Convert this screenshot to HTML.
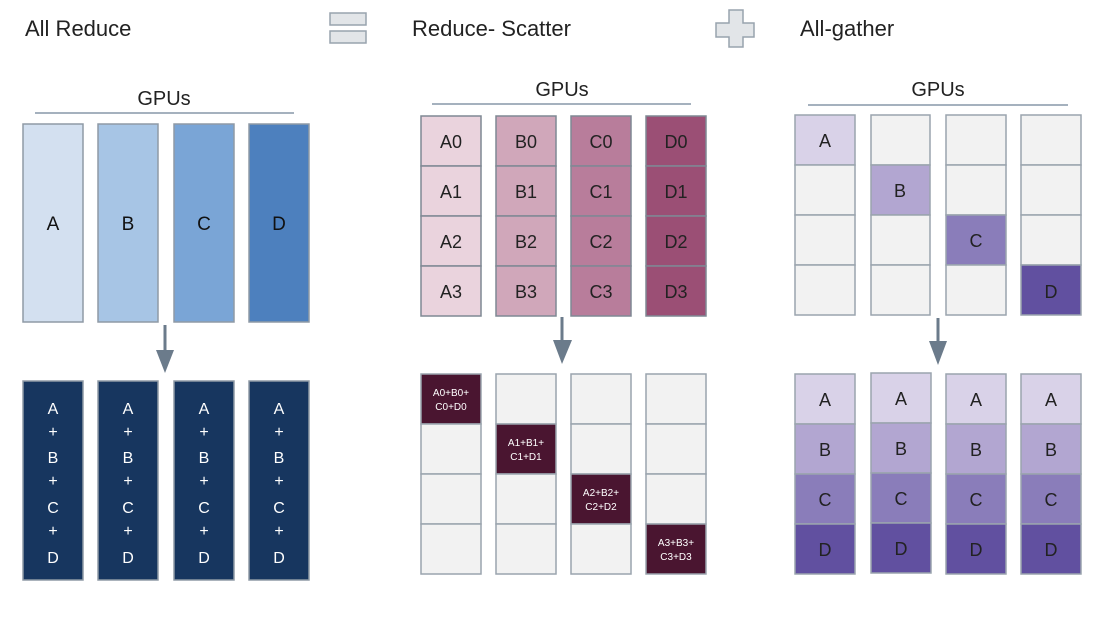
<!DOCTYPE html>
<html><head><meta charset="utf-8"><style>
html,body{margin:0;padding:0;background:#fff;}
svg{display:block;font-family:"Liberation Sans",sans-serif;}
</style></head><body>
<svg width="1101" height="630" viewBox="0 0 1101 630" xmlns="http://www.w3.org/2000/svg">
<rect width="1101" height="630" fill="#fff"/>
<!-- headers -->
<text x="25" y="36" font-size="22" fill="#222">All Reduce</text>
<rect x="330" y="13" width="36" height="12" fill="#e2e5e8" stroke="#98a3ae" stroke-width="1.5"/>
<rect x="330" y="31" width="36" height="12" fill="#e2e5e8" stroke="#98a3ae" stroke-width="1.5"/>
<text x="412" y="36" font-size="22" fill="#222">Reduce- Scatter</text>
<path d="M729,10 h14 v13 h11 v14 h-11 v10 h-14 v-10 h-13 v-14 h13 z" fill="#e2e5e8" stroke="#98a3ae" stroke-width="1.5"/>
<text x="800" y="36" font-size="22" fill="#222">All-gather</text>

<!-- GPUs labels -->
<text x="164" y="105" font-size="20" fill="#222" text-anchor="middle">GPUs</text>
<line x1="35" y1="113" x2="294" y2="113" stroke="#8797a8" stroke-width="1.5"/>
<text x="562" y="96" font-size="20" fill="#222" text-anchor="middle">GPUs</text>
<line x1="432" y1="104" x2="691" y2="104" stroke="#8797a8" stroke-width="1.5"/>
<text x="938" y="96" font-size="20" fill="#222" text-anchor="middle">GPUs</text>
<line x1="808" y1="105" x2="1068" y2="105" stroke="#8797a8" stroke-width="1.5"/>

<g stroke="#8f9aa5" stroke-width="1.5">
<!-- left top -->
<rect x="23" y="124" width="60" height="198" fill="#d3e0f0"/>
<rect x="98" y="124" width="60" height="198" fill="#a7c5e5"/>
<rect x="174" y="124" width="60" height="198" fill="#7aa5d6"/>
<rect x="249" y="124" width="60" height="198" fill="#4d80be"/>
<!-- left bottom -->
<rect x="23" y="381" width="60" height="199" fill="#17365f"/>
<rect x="98" y="381" width="60" height="199" fill="#17365f"/>
<rect x="174" y="381" width="60" height="199" fill="#17365f"/>
<rect x="249" y="381" width="60" height="199" fill="#17365f"/>
</g>
<g font-size="19" fill="#111" text-anchor="middle">
<text x="53" y="230">A</text><text x="128" y="230">B</text><text x="204" y="230">C</text><text x="279" y="230">D</text>
</g>
<g font-size="16" fill="#fff" text-anchor="middle">
<g id="sum">
<text x="53" y="414">A</text><text x="53" y="437">+</text><text x="53" y="463">B</text><text x="53" y="486">+</text><text x="53" y="513">C</text><text x="53" y="536">+</text><text x="53" y="563">D</text>
</g>
<use href="#sum" x="75"/><use href="#sum" x="151"/><use href="#sum" x="226"/>
</g>

<!-- arrows -->
<g fill="#6b7b8b" stroke="#6b7b8b">
<line x1="165" y1="325" x2="165" y2="352" stroke-width="3"/>
<polygon points="156,350 174,350 165,373" stroke="none"/>
<line x1="562" y1="317" x2="562" y2="342" stroke-width="3"/>
<polygon points="553,340 572,340 562,364" stroke="none"/>
<line x1="938" y1="318" x2="938" y2="343" stroke-width="3"/>
<polygon points="929,341 947,341 938,365" stroke="none"/>
</g>

<!-- middle top -->
<g stroke="#7f8894" stroke-width="1.5">
<rect x="421" y="116" width="60" height="50" fill="#ead3dd"/><rect x="421" y="166" width="60" height="50" fill="#ead3dd"/><rect x="421" y="216" width="60" height="50" fill="#ead3dd"/><rect x="421" y="266" width="60" height="50" fill="#ead3dd"/>
<rect x="496" y="116" width="60" height="50" fill="#d0a7ba"/><rect x="496" y="166" width="60" height="50" fill="#d0a7ba"/><rect x="496" y="216" width="60" height="50" fill="#d0a7ba"/><rect x="496" y="266" width="60" height="50" fill="#d0a7ba"/>
<rect x="571" y="116" width="60" height="50" fill="#b87d9b"/><rect x="571" y="166" width="60" height="50" fill="#b87d9b"/><rect x="571" y="216" width="60" height="50" fill="#b87d9b"/><rect x="571" y="266" width="60" height="50" fill="#b87d9b"/>
<rect x="646" y="116" width="60" height="50" fill="#9b4f75"/><rect x="646" y="166" width="60" height="50" fill="#9b4f75"/><rect x="646" y="216" width="60" height="50" fill="#9b4f75"/><rect x="646" y="266" width="60" height="50" fill="#9b4f75"/>
</g>
<g font-size="18" fill="#222" text-anchor="middle">
<text x="451" y="148">A0</text><text x="451" y="198">A1</text><text x="451" y="248">A2</text><text x="451" y="298">A3</text>
<text x="526" y="148">B0</text><text x="526" y="198">B1</text><text x="526" y="248">B2</text><text x="526" y="298">B3</text>
<text x="601" y="148">C0</text><text x="601" y="198">C1</text><text x="601" y="248">C2</text><text x="601" y="298">C3</text>
<text x="676" y="148">D0</text><text x="676" y="198">D1</text><text x="676" y="248">D2</text><text x="676" y="298">D3</text>
</g>

<!-- middle bottom -->
<g stroke="#9aa4ae" stroke-width="1.5" fill="#f2f2f2">
<rect x="421" y="374" width="60" height="50" fill="#4a1530"/><rect x="421" y="424" width="60" height="50"/><rect x="421" y="474" width="60" height="50"/><rect x="421" y="524" width="60" height="50"/>
<rect x="496" y="374" width="60" height="50"/><rect x="496" y="424" width="60" height="50" fill="#4a1530"/><rect x="496" y="474" width="60" height="50"/><rect x="496" y="524" width="60" height="50"/>
<rect x="571" y="374" width="60" height="50"/><rect x="571" y="424" width="60" height="50"/><rect x="571" y="474" width="60" height="50" fill="#4a1530"/><rect x="571" y="524" width="60" height="50"/>
<rect x="646" y="374" width="60" height="50"/><rect x="646" y="424" width="60" height="50"/><rect x="646" y="474" width="60" height="50"/><rect x="646" y="524" width="60" height="50" fill="#4a1530"/>
</g>
<g font-size="10" fill="#fff" text-anchor="middle">
<text x="451" y="396">A0+B0+</text><text x="451" y="410">C0+D0</text>
<text x="526" y="446">A1+B1+</text><text x="526" y="460">C1+D1</text>
<text x="601" y="496">A2+B2+</text><text x="601" y="510">C2+D2</text>
<text x="676" y="546">A3+B3+</text><text x="676" y="560">C3+D3</text>
</g>

<!-- right top -->
<g stroke="#9aa4ae" stroke-width="1.5" fill="#f2f2f2">
<rect x="795" y="115" width="60" height="50" fill="#d9d2e8"/><rect x="795" y="165" width="60" height="50"/><rect x="795" y="215" width="60" height="50"/><rect x="795" y="265" width="60" height="50"/>
<rect x="871" y="115" width="59" height="50"/><rect x="871" y="165" width="59" height="50" fill="#b2a6d1"/><rect x="871" y="215" width="59" height="50"/><rect x="871" y="265" width="59" height="50"/>
<rect x="946" y="115" width="60" height="50"/><rect x="946" y="165" width="60" height="50"/><rect x="946" y="215" width="60" height="50" fill="#8a7dba"/><rect x="946" y="265" width="60" height="50"/>
<rect x="1021" y="115" width="60" height="50"/><rect x="1021" y="165" width="60" height="50"/><rect x="1021" y="215" width="60" height="50"/><rect x="1021" y="265" width="60" height="50" fill="#6150a0"/>
</g>
<g font-size="18" fill="#222" text-anchor="middle">
<text x="825" y="147">A</text><text x="900" y="197">B</text><text x="976" y="247">C</text><text x="1051" y="298">D</text>
</g>

<!-- right bottom -->
<g stroke="#9aa4ae" stroke-width="1.5">
<g id="col">
<rect x="795" y="374" width="60" height="50" fill="#d9d2e8"/><rect x="795" y="424" width="60" height="50" fill="#b2a6d1"/><rect x="795" y="474" width="60" height="50" fill="#8a7dba"/><rect x="795" y="524" width="60" height="50" fill="#6150a0"/>
</g>
<use href="#col" x="76" y="-1"/><use href="#col" x="151"/><use href="#col" x="226"/>
</g>
<g font-size="18" fill="#222" text-anchor="middle">
<g id="lab">
<text x="825" y="406">A</text><text x="825" y="456">B</text><text x="825" y="506">C</text><text x="825" y="556">D</text>
</g>
<use href="#lab" x="76" y="-1"/><use href="#lab" x="151"/><use href="#lab" x="226"/>
</g>
</svg>
</body></html>
